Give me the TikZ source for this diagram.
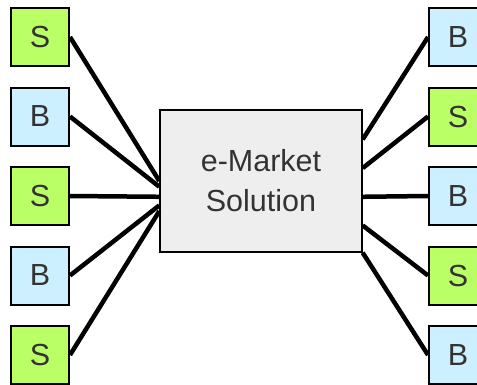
\documentclass[tikz,border=0pt]{standalone}
\usepackage{fontspec}
\setmainfont{Liberation Sans}
\usetikzlibrary{calc,positioning}
\definecolor{sellgreen}{HTML}{BBFF66}
\definecolor{buyblue}{HTML}{CCF0FF}
\definecolor{mktgray}{HTML}{EEEEEE}
\definecolor{txtgray}{HTML}{333333}

\begin{document}
\begin{tikzpicture}[x=1pt, y=1pt,
		party/.style = {draw, line width=2pt, minimum width=58pt, minimum height=58pt, inner sep=0pt, text=txtgray, font=\fontsize{30.5}{40}\selectfont},
		seller/.style = {party, fill=sellgreen},
		buyer/.style = {party, fill=buyblue},
		market/.style = {draw, line width=2pt, fill=mktgray, minimum width=201.4pt, minimum height=141.4pt, align=center, text=txtgray, font=\fontsize{30.5}{40}\selectfont},
		link/.style = {line width=4.5pt},
		node distance=79.5pt]
		\useasboundingbox (0,0) rectangle (477,-384);
		% left column
		\node[seller] (ls1) at (40,-37) {S};
		\node[buyer] (lb1) [below of=ls1] {B};
		\node[seller] (ls2) [below of=lb1] {S};
		\node[buyer] (lb2) [below of=ls2] {B};
		\node[seller] (ls3) [below of=lb2] {S};
		% right column
		\node[buyer] (rb1) at (458,-37) {B};
		\node[seller] (rs1) [below of=rb1] {S};
		\node[buyer] (rb2) [below of=rs1] {B};
		\node[seller] (rs2) [below of=rb2] {S};
		\node[buyer] (rb3) [below of=rs2] {B};
		% market in the middle
		\node[market] (mkt) at (261,-181) {e-Market\\Solution};
		\draw[link] (ls1.east) -- ($(mkt.north west)!.50!(mkt.south west)$);
		\draw[link] (lb1.east) -- ($(mkt.north west)!.54!(mkt.south west)$);
		\draw[link] (ls2.east) -- ($(mkt.north west)!.61!(mkt.south west)$);
		\draw[link] (lb2.east) -- ($(mkt.north west)!.67!(mkt.south west)$);
		\draw[link] (ls3.east) -- ($(mkt.north west)!.71!(mkt.south west)$);
		\draw[link] (rb1.west) -- ($(mkt.north east)!.21!(mkt.south east)$);
		\draw[link] (rs1.west) -- ($(mkt.north east)!.41!(mkt.south east)$);
		\draw[link] (rb2.west) -- ($(mkt.north east)!.61!(mkt.south east)$);
		\draw[link] (rs2.west) -- ($(mkt.north east)!.81!(mkt.south east)$);
		\draw[link] (rb3.west) -- (mkt.south east);
	\end{tikzpicture}
\end{document}
